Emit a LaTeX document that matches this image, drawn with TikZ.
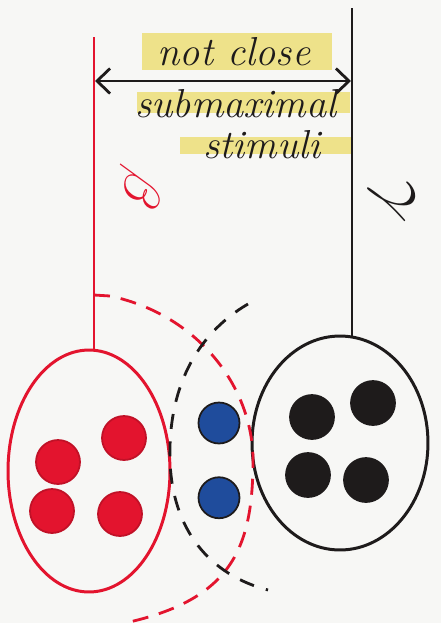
\documentclass[tikz,border=0pt]{standalone}
\usepackage{tikz}
\usetikzlibrary{arrows.meta, positioning, shapes.geometric}
\definecolor{rojoplumon}{HTML}{E3142E}
\definecolor{azulplumon}{HTML}{1F4C9C}
\definecolor{negroplumon}{HTML}{1E1B1B}
\definecolor{amarillomarcador}{HTML}{EEE28A}
\definecolor{papel}{HTML}{F7F7F5}
\colorlet{colB}{rojoplumon}
\colorlet{colG}{negroplumon}
\colorlet{colCompartido}{azulplumon}
\colorlet{colResaltado}{amarillomarcador}
\tikzset{
  grupoBase/.style={
    ellipse, line width=1.7pt, inner sep=0pt, outer sep=0pt
  },
  grupoRojo/.style={grupoBase, draw=colB, minimum width=3.24cm, minimum height=4.84cm},
  grupoNegro/.style={grupoBase, draw=colG, minimum width=3.52cm, minimum height=4.28cm},
  puntoBase/.style={circle, inner sep=0pt, minimum size=0.88cm, line width=1pt},
  puntoRojo/.style={puntoBase, fill=colB, draw=colB!85!black},
  puntoAzul/.style={puntoBase, fill=colCompartido, draw=colG, minimum size=0.82cm},
  puntoNegro/.style={puntoBase, fill=colG, draw=colG},
  lineaRoja/.style={line width=1.6pt, colB},
  lineaNegra/.style={line width=1.6pt, colG},
  trazoRojo/.style={lineaRoja, dash pattern=on 0.32cm off 0.22cm},
  trazoNegro/.style={lineaNegra, dash pattern=on 0.3cm off 0.25cm},
  flechaDoble/.style={{Straight Barb[length=2.6mm, width=5mm]}-{Straight Barb[length=2.6mm, width=5mm]},
    line width=1.6pt, colG},
  etiquetaMano/.style={font=\fontsize{23}{26}\selectfont\itshape, text=colG, inner sep=0pt},
  letraGriega/.style={font=\Huge, scale=1.3, inner sep=0pt, rotate=-112},
}
\begin{document}
\begin{tikzpicture}[x=0.02cm, y=-0.02cm]
    \fill[papel] (0,0) rectangle (441,623);
    \useasboundingbox (0,0) rectangle (441,623);

    \fill[colResaltado] (142,33) rectangle (332,70);
    \fill[colResaltado] (137,92) rectangle (350,113);
    \fill[colResaltado] (180,137) rectangle (352,154);
    \node[etiquetaMano, anchor=base] (noCerca) at (234,65) {not close};
    \node[etiquetaMano, anchor=base] (subMax) at (236,117) {submaximal};
    \node[etiquetaMano, anchor=base] (estimulos) at (262,158) {stimuli};

    \node[grupoRojo] (grupoB) at (89,471) {};
    \node[grupoNegro] (grupoG) at (340,443) {};
    \node[puntoRojo] (rojo1) at (58,462) {};
    \node[puntoRojo] (rojo2) at (124,438) {};
    \node[puntoRojo] (rojo3) at (52,511) {};
    \node[puntoRojo] (rojo4) at (120,514) {};
    \node[puntoAzul] (azul1) at (219,423) {};
    \node[puntoAzul, below=0.64cm of azul1] (azul2) {};
    \node[puntoNegro] (negro1) at (312,417) {};
    \node[puntoNegro] (negro2) at (373,403) {};
    \node[puntoNegro] (negro3) at (308,475) {};
    \node[puntoNegro] (negro4) at (366,480) {};

    \coordinate (topeB) at (94,37);
    \coordinate (topeG) at (352,8);
    \coordinate (ramaB) at (94,295);
    \coordinate (inicioG) at (248,304);
    \coordinate (flechaIzq) at (95,81);
    \coordinate (flechaDer) at (351,81);

    \draw[lineaRoja] (topeB) -- (topeB |- grupoB.north);
    \draw[lineaNegra] (topeG) -- (topeG |- grupoG.north);
    \draw[flechaDoble] (flechaIzq) -- (flechaDer);

    \draw[trazoRojo] (ramaB) -- (110,296) .. controls (200,315) and (255,390) .. (253,465)
      .. controls (252,550) and (230,600) .. (125,623);
    \draw[trazoNegro] (inicioG) .. controls (195,335) and (168,390) .. (170,460)
      .. controls (172,530) and (210,575) .. (268,590);

    \node[letraGriega, text=colB] (etiquetaB) at (138,188) {$\beta$};
    \node[letraGriega, text=colG, scale=1.3] (etiquetaG) at (391,196) {$\gamma$};
\end{tikzpicture}
\end{document}
